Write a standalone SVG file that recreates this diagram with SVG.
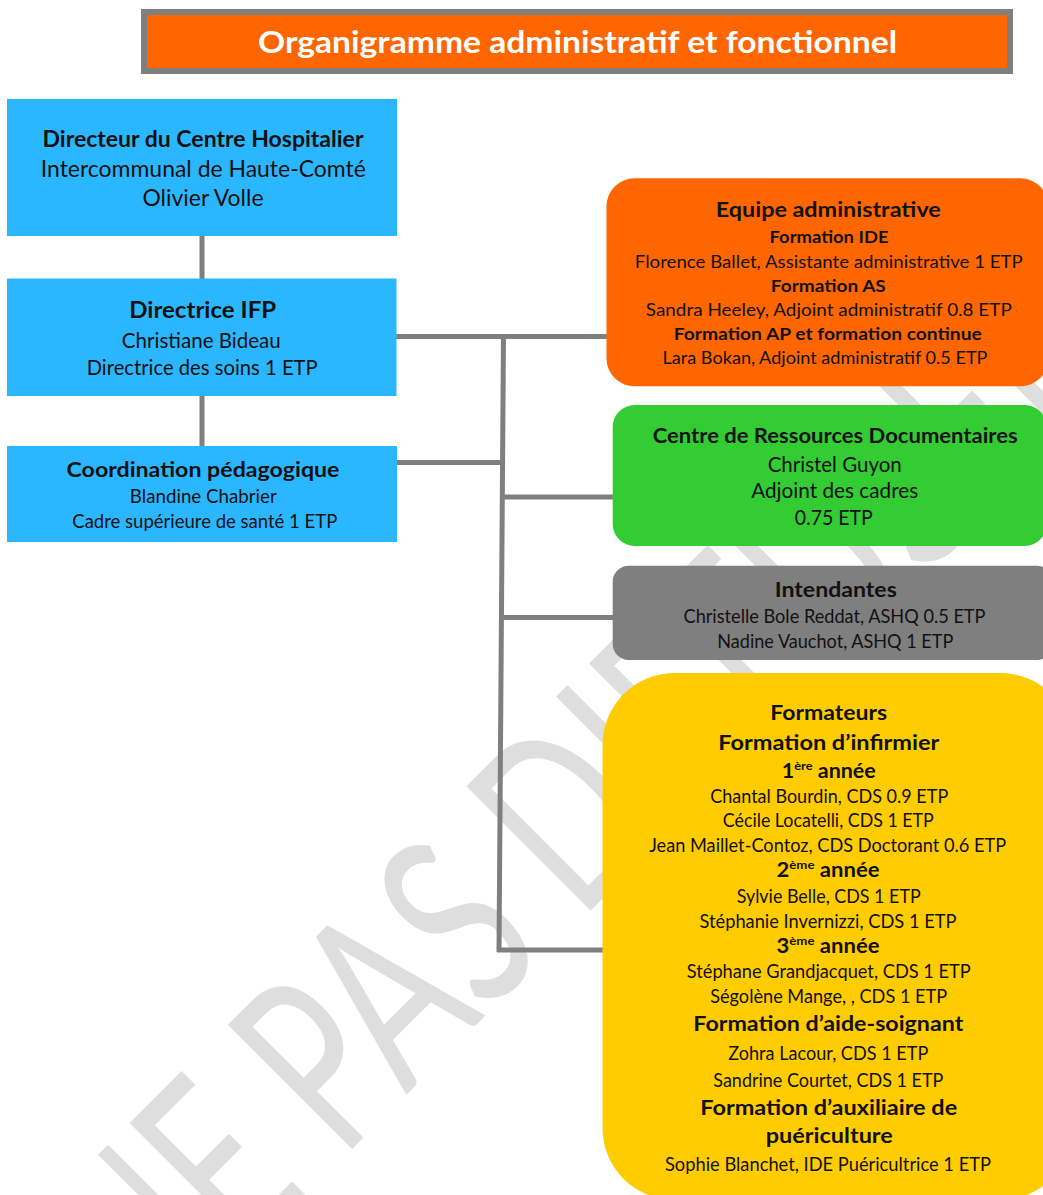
<svg xmlns="http://www.w3.org/2000/svg" width="1043" height="1195" viewBox="0 0 1043 1195">
<style>
.t{font-family:Lato,"Open Sans","Liberation Sans",sans-serif;fill:#111;text-anchor:middle}
.b{font-weight:bold}
.c{stroke:#7f7f7f;stroke-width:5;fill:none}
.wm{font-family:Lato,"Open Sans","Liberation Sans",sans-serif;font-weight:normal;fill:#dedede}
.blue{fill:#2bb7ff}
</style>
<rect width="1043" height="1195" fill="#ffffff"/>
<g id="watermark">
<text class="wm" font-size="245" transform="translate(153,1348) rotate(-45) scale(0.68,1)">NE PAS DIFFUSER</text>
</g>
<g id="connectors">
<line class="c" x1="202" y1="236" x2="202" y2="279"/>
<line class="c" x1="202" y1="396" x2="202" y2="446"/>
<line class="c" x1="396" y1="336.5" x2="607" y2="336.5"/>
<line class="c" x1="397" y1="462.5" x2="502" y2="462.5"/>
<line class="c" x1="503.5" y1="334" x2="499" y2="952"/>
<line class="c" x1="503" y1="497" x2="613" y2="497"/>
<line class="c" x1="502" y1="617.5" x2="613" y2="617.5"/>
<line class="c" x1="497" y1="950" x2="603" y2="950"/>
</g>
<g id="title">
<rect x="141" y="9" width="872" height="65" fill="#7f7f7f"/>
<rect x="147" y="15" width="860" height="53" fill="#ff6600"/>
<text class="t b" x="577.5" y="53" font-size="30" style="fill:#ffffff" textLength="639" lengthAdjust="spacingAndGlyphs">Organigramme administratif et fonctionnel</text>
</g>
<g id="node-directeur">
<rect class="blue" x="7" y="99" width="390" height="137"/>
<text class="t b" x="203" y="146.7" font-size="22.5" textLength="321" lengthAdjust="spacingAndGlyphs">Directeur du Centre Hospitalier</text>
<text class="t" x="203.3" y="176.7" font-size="23" textLength="325" lengthAdjust="spacingAndGlyphs">Intercommunal de Haute-Comté</text>
<text class="t" x="203" y="206" font-size="23" textLength="121" lengthAdjust="spacingAndGlyphs">Olivier Volle</text>
</g>
<g id="node-directrice">
<rect class="blue" x="7" y="278.5" width="389.5" height="117.5"/>
<text class="t b" x="202.7" y="317.7" font-size="23" textLength="147" lengthAdjust="spacingAndGlyphs">Directrice IFP</text>
<text class="t" x="201.3" y="348.3" font-size="20.5" textLength="159" lengthAdjust="spacingAndGlyphs">Christiane Bideau</text>
<text class="t" x="202.2" y="375" font-size="20.5" textLength="231" lengthAdjust="spacingAndGlyphs">Directrice des soins 1 ETP</text>
</g>
<g id="node-coordination">
<rect class="blue" x="7" y="446" width="390" height="96"/>
<text class="t b" x="203" y="476.7" font-size="21" textLength="273" lengthAdjust="spacingAndGlyphs">Coordination pédagogique</text>
<text class="t" x="203.3" y="503.3" font-size="18.5" textLength="147" lengthAdjust="spacingAndGlyphs">Blandine Chabrier</text>
<text class="t" x="204.8" y="528.3" font-size="18.5" textLength="265" lengthAdjust="spacingAndGlyphs">Cadre supérieure de santé 1 ETP</text>
</g>
<g id="node-equipe-admin">
<rect x="606.5" y="178.3" width="442" height="208" rx="28" fill="#ff6600"/>
<text class="t b" x="828.3" y="216.7" font-size="21.5" textLength="225" lengthAdjust="spacingAndGlyphs">Equipe administrative</text>
<text class="t b" x="829" y="242.7" font-size="17.5" textLength="119" lengthAdjust="spacingAndGlyphs">Formation IDE</text>
<text class="t" x="828.8" y="268.3" font-size="18" textLength="388" lengthAdjust="spacingAndGlyphs">Florence Ballet, Assistante administrative 1 ETP</text>
<text class="t b" x="828.3" y="291.7" font-size="17.5" textLength="115" lengthAdjust="spacingAndGlyphs">Formation AS</text>
<text class="t" x="828.8" y="315.7" font-size="18" textLength="366" lengthAdjust="spacingAndGlyphs">Sandra Heeley, Adjoint administratif 0.8  ETP</text>
<text class="t b" x="827.8" y="340" font-size="17.5" textLength="308" lengthAdjust="spacingAndGlyphs">Formation AP et formation continue</text>
<text class="t" x="825" y="364.3" font-size="18" textLength="325" lengthAdjust="spacingAndGlyphs">Lara Bokan, Adjoint administratif 0.5 ETP</text>
</g>
<g id="node-crd">
<rect x="612.7" y="405" width="434" height="141" rx="22" fill="#33cc33"/>
<text class="t b" x="835.2" y="442.7" font-size="20" textLength="365" lengthAdjust="spacingAndGlyphs">Centre de Ressources Documentaires</text>
<text class="t" x="834.7" y="471.7" font-size="21" textLength="134" lengthAdjust="spacingAndGlyphs">Christel Guyon</text>
<text class="t" x="834.7" y="498.3" font-size="21" textLength="167" lengthAdjust="spacingAndGlyphs">Adjoint des cadres</text>
<text class="t" x="833.8" y="525" font-size="21" textLength="78" lengthAdjust="spacingAndGlyphs">0.75 ETP</text>
</g>
<g id="node-intendantes">
<rect x="612.7" y="565.7" width="440" height="94.3" rx="16" fill="#7f7f7f"/>
<text class="t b" x="835.8" y="596.7" font-size="21.5" textLength="122" lengthAdjust="spacingAndGlyphs">Intendantes</text>
<text class="t" x="834.5" y="622.7" font-size="19" textLength="302" lengthAdjust="spacingAndGlyphs">Christelle Bole Reddat, ASHQ 0.5 ETP</text>
<text class="t" x="835.3" y="647.7" font-size="19" textLength="236" lengthAdjust="spacingAndGlyphs">Nadine Vauchot, ASHQ 1 ETP</text>
</g>
<g id="node-formateurs">
<rect x="602.5" y="673" width="470" height="527" rx="72" fill="#ffcc00"/>
<text class="t b" x="828.7" y="720" font-size="21" textLength="117" lengthAdjust="spacingAndGlyphs">Formateurs</text>
<text class="t b" x="828.8" y="750" font-size="21.5" textLength="221" lengthAdjust="spacingAndGlyphs">Formation d’infirmier</text>
<text class="t b" x="828.8" y="778.3" font-size="20" textLength="94" lengthAdjust="spacingAndGlyphs">1<tspan font-size="12" dy="-8">ère</tspan><tspan dy="8"> année</tspan></text>
<text class="t" x="829.2" y="803.3" font-size="18.5" textLength="238" lengthAdjust="spacingAndGlyphs">Chantal Bourdin, CDS 0.9 ETP</text>
<text class="t" x="828.3" y="827.3" font-size="18.5" textLength="211" lengthAdjust="spacingAndGlyphs">Cécile Locatelli, CDS 1 ETP</text>
<text class="t" x="827.7" y="851.7" font-size="18.5" textLength="357" lengthAdjust="spacingAndGlyphs">Jean Maillet-Contoz, CDS Doctorant 0.6 ETP</text>
<text class="t b" x="828" y="876.7" font-size="20" textLength="103" lengthAdjust="spacingAndGlyphs">2<tspan font-size="12" dy="-8">ème</tspan><tspan dy="8"> année</tspan></text>
<text class="t" x="828.7" y="903.3" font-size="18.5" textLength="184" lengthAdjust="spacingAndGlyphs">Sylvie Belle, CDS 1 ETP</text>
<text class="t" x="828" y="928.3" font-size="18.5" textLength="257" lengthAdjust="spacingAndGlyphs">Stéphanie Invernizzi, CDS 1 ETP</text>
<text class="t b" x="828" y="953.3" font-size="20" textLength="103" lengthAdjust="spacingAndGlyphs">3<tspan font-size="12" dy="-8">ème</tspan><tspan dy="8"> année</tspan></text>
<text class="t" x="828.8" y="978.3" font-size="18.5" textLength="284" lengthAdjust="spacingAndGlyphs">Stéphane Grandjacquet, CDS 1 ETP</text>
<text class="t" x="828.7" y="1002.7" font-size="18.5" textLength="237" lengthAdjust="spacingAndGlyphs">Ségolène Mange, , CDS 1 ETP</text>
<text class="t b" x="828.3" y="1031" font-size="21.5" textLength="270" lengthAdjust="spacingAndGlyphs">Formation d’aide-soignant</text>
<text class="t" x="828.3" y="1060" font-size="18.5" textLength="200" lengthAdjust="spacingAndGlyphs">Zohra Lacour, CDS 1 ETP</text>
<text class="t" x="828.3" y="1086.7" font-size="18.5" textLength="230" lengthAdjust="spacingAndGlyphs">Sandrine Courtet, CDS 1 ETP</text>
<text class="t b" x="828.7" y="1115" font-size="21.5" textLength="257" lengthAdjust="spacingAndGlyphs">Formation d’auxiliaire de</text>
<text class="t b" x="829.3" y="1143.3" font-size="21.5" textLength="127" lengthAdjust="spacingAndGlyphs">puériculture</text>
<text class="t" x="828" y="1170.7" font-size="18.5" textLength="326" lengthAdjust="spacingAndGlyphs">Sophie Blanchet, IDE Puéricultrice 1 ETP</text>
</g>
</svg>
